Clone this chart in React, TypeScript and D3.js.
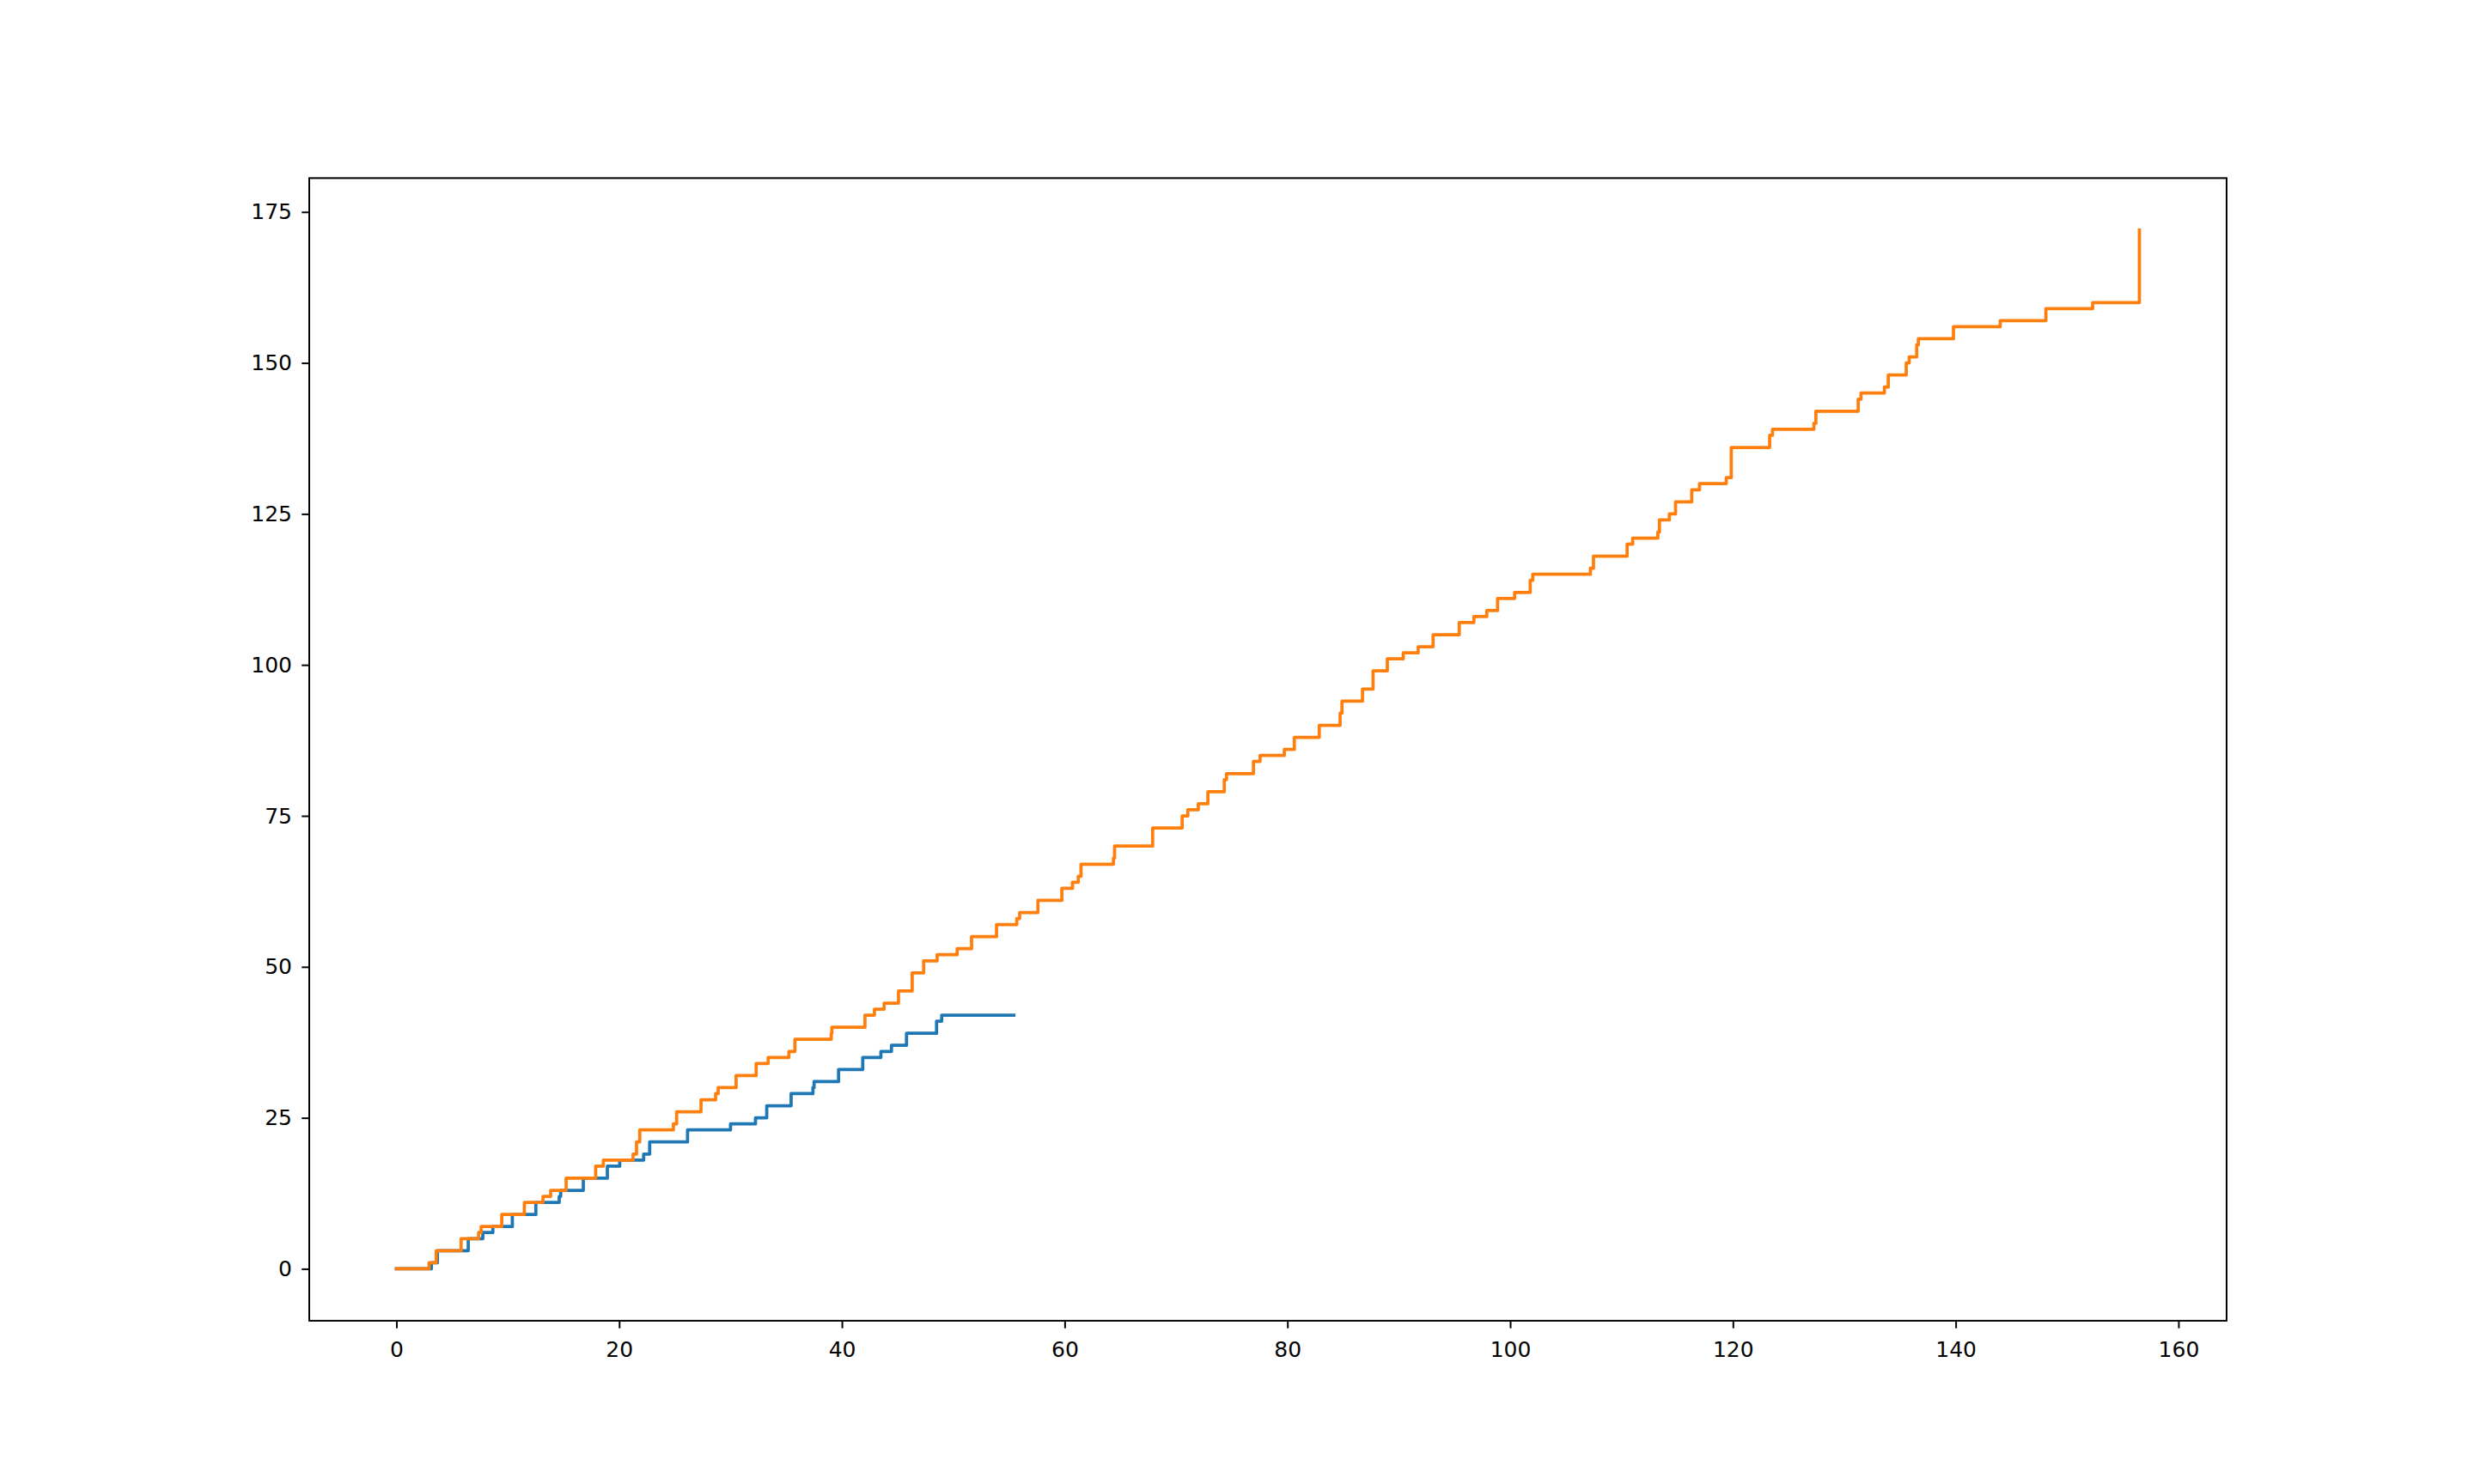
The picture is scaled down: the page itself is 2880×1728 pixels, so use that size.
import React, { useEffect, useRef } from 'react';
import * as d3 from 'd3';

const width = 2880;
const height = 1728;
const margin = { top: 207.4, right: 288, bottom: 190.1, left: 360 };

// times where the first series steps up, and the count after each step
const blueX = [0, 3.14, 3.68, 6.45, 7.76, 8.66, 10.41, 12.52, 14.62, 14.75, 16.78, 18.94, 20.05, 22.2, 22.74, 26.14, 30.0, 32.24, 33.25, 35.44, 37.4, 37.5, 39.7, 41.87, 43.5, 44.45, 45.8, 48.5, 48.96, 55.44];
const blueY = [0, 1, 3, 5, 6, 7, 9, 11, 12, 13, 15, 17, 18, 19, 21, 23, 24, 25, 27, 29, 30, 31, 33, 35, 36, 37, 39, 41, 42, 42];

const orangeX = [0, 2.93, 3.57, 5.81, 7.38, 7.61, 9.46, 11.49, 13.16, 13.85, 15.24, 17.89, 18.58, 21.25, 21.56, 21.85, 24.87, 25.16, 27.35, 28.66, 28.89, 30.5, 32.3, 33.38, 35.24, 35.78, 39.04, 39.1, 42.07, 42.92, 43.79, 45.08, 46.31, 47.34, 48.55, 50.35, 51.64, 53.88, 55.7, 55.96, 57.6, 59.75, 60.7, 61.22, 61.47, 64.38, 64.48, 67.9, 70.55, 71.06, 72.0, 72.86, 74.33, 74.53, 76.95, 77.54, 79.72, 80.62, 82.86, 84.73, 84.9, 86.74, 87.69, 88.97, 90.4, 91.74, 93.08, 95.43, 96.74, 97.9, 98.87, 100.4, 101.8, 102.03, 107.2, 107.48, 110.5, 111.0, 113.26, 113.4, 114.29, 114.85, 116.3, 117.0, 119.4, 119.85, 123.3, 123.55, 127.27, 127.45, 131.25, 131.5, 133.6, 133.95, 135.56, 135.83, 136.5, 136.65, 139.8, 144.0, 148.1, 152.3, 156.5];
const orangeY = [0, 1, 3, 5, 6, 7, 9, 11, 12, 13, 15, 17, 18, 19, 21, 23, 24, 26, 28, 29, 30, 32, 34, 35, 36, 38, 39, 40, 42, 43, 44, 46, 49, 51, 52, 53, 55, 57, 58, 59, 61, 63, 64, 65, 67, 68, 70, 73, 75, 76, 77, 79, 81, 82, 84, 85, 86, 88, 90, 92, 94, 96, 99, 101, 102, 103, 105, 107, 108, 109, 111, 112, 114, 115, 116, 118, 120, 121, 122, 124, 125, 127, 129, 130, 131, 136, 138, 139, 140, 142, 144, 145, 146, 148, 150, 151, 153, 154, 156, 157, 159, 160, 172];

const xTicks = [0, 20, 40, 60, 80, 100, 120, 140, 160];
const yTicks = [0, 25, 50, 75, 100, 125, 150, 175];

const seriesColors = ['#1f77b4', '#ff7f0e'];

const xMax = 156.5;
const yMax = 172;

const x = d3
  .scaleLinear()
  .domain([-xMax * 0.05, xMax * 1.05])
  .range([margin.left, width - margin.right]);

const y = d3
  .scaleLinear()
  .domain([-yMax * 0.05, yMax * 1.05])
  .range([height - margin.bottom, margin.top]);

const line = d3
  .line<[number, number]>()
  .x(d => x(d[0]))
  .y(d => y(d[1]))
  .curve(d3.curveStepAfter);

const toPoints = (xs: number[], ys: number[]) => xs.map((v, i) => [v, ys[i]] as [number, number]);

const App = () => {
  const xAxisRef = useRef<SVGGElement>(null);
  const yAxisRef = useRef<SVGGElement>(null);

  useEffect(() => {
    const xAxis = d3.axisBottom(x).tickValues(xTicks).tickSize(8.75).tickPadding(15.5).tickSizeOuter(0);
    const yAxis = d3.axisLeft(y).tickValues(yTicks).tickSize(8.75).tickPadding(11.25).tickSizeOuter(0);

    const gx = d3.select(xAxisRef.current).call(xAxis);
    const gy = d3.select(yAxisRef.current).call(yAxis);

    [gx, gy].forEach(g => {
      g.select('.domain').remove();
      g.selectAll('.tick line').attr('stroke', '#000').attr('stroke-width', 2);
      g.selectAll('.tick text')
        .attr('fill', '#000')
        .style('font-family', '"DejaVu Sans", sans-serif')
        .style('font-size', '25px');
    });
  }, []);

  const plotW = width - margin.left - margin.right;
  const plotH = height - margin.top - margin.bottom;

  return (
    <svg
      width={width}
      height={height}
      style={{ position: 'absolute', left: 0, top: 0, background: '#fff' }}
    >
      <rect x={0} y={0} width={width} height={height} fill="#fff" />
      <path
        d={line(toPoints(blueX, blueY)) || ''}
        fill="none"
        stroke={seriesColors[0]}
        strokeWidth={3.75}
        strokeLinejoin="round"
        strokeLinecap="square"
      />
      <path
        d={line(toPoints(orangeX, orangeY)) || ''}
        fill="none"
        stroke={seriesColors[1]}
        strokeWidth={3.75}
        strokeLinejoin="round"
        strokeLinecap="square"
      />
      <rect
        x={margin.left}
        y={margin.top}
        width={plotW}
        height={plotH}
        fill="none"
        stroke="#000"
        strokeWidth={2}
        strokeLinejoin="miter"
      />
      <g ref={xAxisRef} transform={`translate(0,${height - margin.bottom})`} />
      <g ref={yAxisRef} transform={`translate(${margin.left},0)`} />
    </svg>
  );
};

export default App;
